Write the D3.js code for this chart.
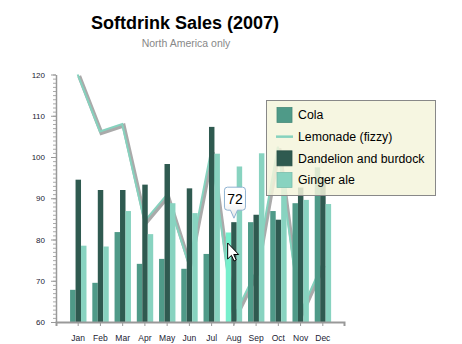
<!DOCTYPE html>
<html><head><meta charset="utf-8">
<script src="https://cdn.jsdelivr.net/npm/d3@7"></script>
<style>
body{margin:0;background:#fff}
svg{display:block}
text{font-family:"Liberation Sans",Arial,sans-serif}
</style>
</head><body>
<svg id="c" width="462" height="344"></svg>
<script>
// ---- data ----
const months = ["Jan","Feb","Mar","Apr","May","Jun","Jul","Aug","Sep","Oct","Nov","Dec"];
const cola      = [67.8, 69.5, 81.8, 74.1, 75.3, 72.9, 76.5, 81.7, 84.2, 86.9, 88.8, 97.5];
const lemonade  = [120, 106.2, 108, 84.4, 90.8, 73.9, 101.5, 61, 72, 102.5, 62, 74];
const dandelion = [94.5, 92.0, 92.0, 93.3, 98.3, 92.4, 107.3, 84.2, 86.0, 84.8, 92.6, 95.0];
const gingerAle = [78.5, 78.3, 86.9, 81.3, 88.8, 86.4, 100.8, 97.7, 100.9, 94.0, 89.6, 88.6];
const seriesNames = ["Cola","Lemonade (fizzy)","Dandelion and burdock","Ginger ale"];
const yTicks = [60,70,80,90,100,110,120];
const titleText = "Softdrink Sales (2007)";
const subtitleText = "North America only";
const tooltipText = "72";
const hoverMonth = "Aug";

// ---- styles ----
const C = {cola:"#4f9a88", lemon:"#86d2be", dand:"#2f5a50", ginger:"#88d3c0", hi:"#76efcc", axis:"#999"};

const svg = d3.select("#c");

// title
svg.append("text").attr("x",185).attr("y",29).attr("text-anchor","middle")
  .attr("font-size","18px").attr("font-weight","bold").attr("fill","#000").text(titleText);
svg.append("text").attr("x",186).attr("y",46.5).attr("text-anchor","middle")
  .attr("font-size","10.5px").attr("fill","#888").text(subtitleText);

// scales
const x = d3.scalePoint().domain(months).range([56,344]).padding(0.975);
const y = d3.scaleLinear().domain([60,120]).range([322,74.5]);
const barSeries = [
  {name:seriesNames[0], values:cola, color:C.cola},
  {name:seriesNames[2], values:dandelion, color:C.dand},
  {name:seriesNames[3], values:gingerAle, color:C.ginger}
];
const xb = d3.scaleBand().domain(barSeries.map(s=>s.name)).range([-7.6,8.8]);

// lemonade line (behind bars) with shadow
const line = d3.line().x((d,i)=>x(months[i])).y(d=>y(d));
svg.append("path").datum(lemonade).attr("d",line)
  .attr("fill","none").attr("stroke","#aaa").attr("stroke-width",4)
  .attr("stroke-linejoin","miter").attr("transform","translate(1.5,1.5)");
svg.append("path").datum(lemonade).attr("d",line)
  .attr("fill","none").attr("stroke",C.lemon).attr("stroke-width",2)
  .attr("stroke-linejoin","miter");

// bars
barSeries.forEach(s=>{
  svg.append("g").selectAll("rect").data(s.values).join("rect")
    .attr("x",(d,i)=>x(months[i])+xb(s.name))
    .attr("width",xb.bandwidth())
    .attr("y",d=>y(d))
    .attr("height",d=>y(60)-y(d))
    .attr("fill",(d,i)=> (s.name===seriesNames[0] && months[i]===hoverMonth) ? C.hi : s.color);
});

// y axis: minor + major
const yMinor = svg.append("g").attr("transform","translate(56,0)")
  .call(d3.axisLeft(y).tickValues(d3.range(60,121,1)).tickSize(3).tickFormat(""));
yMinor.select(".domain").remove();
yMinor.selectAll("line").attr("stroke","#aaa");
const yMajor = svg.append("g").attr("transform","translate(56,0)")
  .call(d3.axisLeft(y).tickValues(yTicks).tickSize(5).tickSizeOuter(0).tickPadding(6));
yMajor.select(".domain").attr("stroke",C.axis).attr("stroke-width",1.5);
yMajor.selectAll("line").attr("stroke",C.axis);
yMajor.selectAll("text").attr("font-size","8px").attr("fill","#223").attr("font-family","Liberation Sans, Arial");

// x axis
const xAxis = svg.append("g").attr("transform","translate(0,322)")
  .call(d3.axisBottom(x).tickSize(4).tickSizeOuter(4).tickPadding(9));
xAxis.select(".domain").attr("stroke",C.axis).attr("stroke-width",2);
xAxis.selectAll("line").attr("stroke",C.axis);
xAxis.selectAll("text").attr("font-size","8.5px").attr("fill","#223").attr("font-family","Liberation Sans, Arial");

// legend
const lg = svg.append("g");
lg.append("rect").attr("x",266.5).attr("y",100.5).attr("width",169).attr("height",95)
  .attr("fill","#f5f5dc").attr("fill-opacity",0.85).attr("stroke","#888");
const legendItems = [
  {name:seriesNames[0], color:C.cola, type:"box"},
  {name:seriesNames[1], color:C.lemon, type:"line"},
  {name:seriesNames[2], color:C.dand, type:"box"},
  {name:seriesNames[3], color:C.ginger, type:"box"}
];
const rowY = d3.scalePoint().domain(legendItems.map(d=>d.name)).range([115,180]);
legendItems.forEach(it=>{
  const cy = rowY(it.name);
  if(it.type==="box"){
    lg.append("rect").attr("x",277).attr("y",cy-7.5).attr("width",15).attr("height",15)
      .attr("fill",it.color).attr("stroke",d3.color(it.color).darker(0.3)).attr("stroke-width",0.8);
  } else {
    lg.append("line").attr("x1",276).attr("x2",293).attr("y1",cy).attr("y2",cy)
      .attr("stroke",it.color).attr("stroke-width",2.5);
  }
  lg.append("text").attr("x",298).attr("y",cy).attr("dy","0.36em")
    .attr("font-size","12.3px").attr("fill","#000").text(it.name);
});

// tooltip
const hi = months.indexOf(hoverMonth);
const tipX = x(hoverMonth) + xb(seriesNames[2]) + xb.bandwidth()/2;
const tipY = y(dandelion[hi]) - 4;
const defs = svg.append("defs");
const gr = defs.append("linearGradient").attr("id","tg").attr("x1",0).attr("y1",0).attr("x2",0).attr("y2",1);
gr.append("stop").attr("offset","0.5").attr("stop-color","#fff");
gr.append("stop").attr("offset","1").attr("stop-color","#e6e6e6");
const bx0 = tipX-9.5, bx1 = tipX+11.5, by0 = tipY-31, by1 = tipY-8, r = 3;
const tp = d3.path();
tp.moveTo(bx0+r,by0); tp.lineTo(bx1-r,by0); tp.arcTo(bx1,by0,bx1,by0+r,r);
tp.lineTo(bx1,by1-r); tp.arcTo(bx1,by1,bx1-r,by1,r);
tp.lineTo(tipX+3.5,by1); tp.lineTo(tipX,tipY); tp.lineTo(tipX-3.5,by1);
tp.lineTo(bx0+r,by1); tp.arcTo(bx0,by1,bx0,by1-r,r);
tp.lineTo(bx0,by0+r); tp.arcTo(bx0,by0,bx0+r,by0,r); tp.closePath();
svg.append("path").attr("d",tp.toString()).attr("fill","url(#tg)").attr("stroke","#8fb2d2").attr("stroke-width",1);
svg.append("text").attr("x",(bx0+bx1)/2).attr("y",(by0+by1)/2).attr("dy","0.36em")
  .attr("text-anchor","middle").attr("font-size","14px").attr("fill","#000").text(tooltipText);

// mouse cursor
const cx = x(hoverMonth) - 5.7, cy = y(cola[hi]) + 10.5;
svg.append("path").attr("transform",`translate(${cx},${cy})`)
  .attr("d","M0,0 L0,16 L3.8,12.4 L6.4,18 L8.6,17 L6.1,11.5 L11,11.5 Z")
  .attr("fill","#fff").attr("stroke","#000").attr("stroke-width",1).attr("stroke-linejoin","miter");
</script>
</body></html>
